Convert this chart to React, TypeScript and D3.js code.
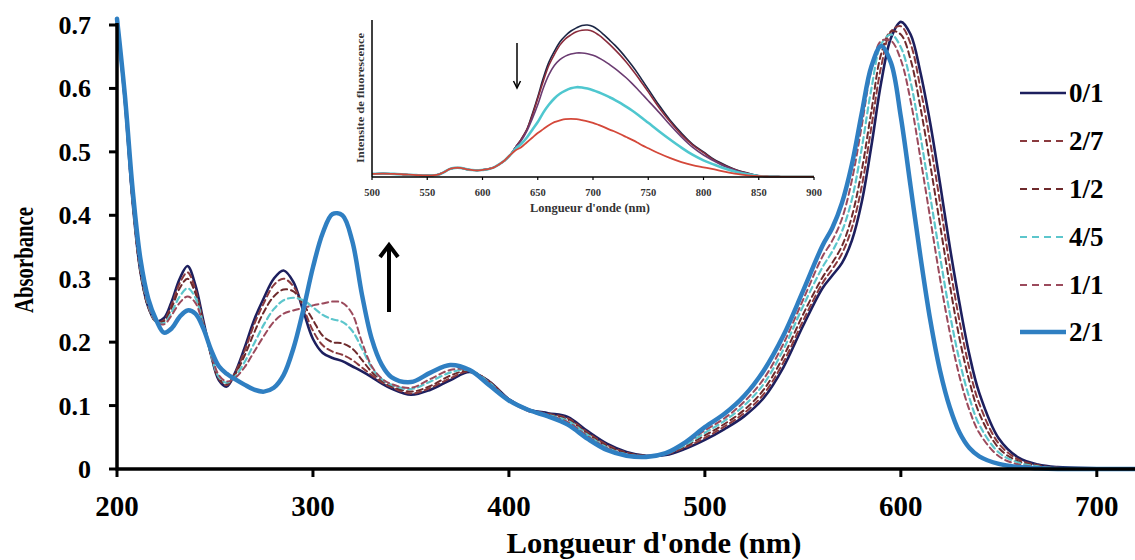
import React from "react";
import * as d3 from "d3";

// ---------- Main chart data ----------
const wavelengths = [200, 204, 208, 212, 216, 220, 224, 228, 232, 236, 240, 244, 248, 252, 256,
  260, 265, 270, 275, 280, 285, 290, 295, 300, 305, 310, 315, 320, 325, 330, 335, 340,
  350, 360, 370, 380, 390, 400, 410, 420, 430, 440, 450, 460, 470, 480, 490, 500, 510, 520, 530, 540, 550, 560,
  565, 570, 575, 580, 585, 590, 595, 600, 605, 610, 615, 620, 625, 630, 635, 640,
  650, 660, 670, 680, 700, 720];

const s01 = [0.71, 0.58, 0.42, 0.31, 0.255, 0.233, 0.238, 0.265, 0.30, 0.32, 0.29, 0.235, 0.18, 0.14, 0.13,
  0.15, 0.19, 0.235, 0.27, 0.30, 0.313, 0.295, 0.25, 0.205, 0.183, 0.175, 0.17, 0.162, 0.154, 0.145, 0.135, 0.127,
  0.117, 0.125, 0.14, 0.153, 0.138, 0.11, 0.094, 0.088, 0.082, 0.06, 0.04, 0.027, 0.021, 0.022, 0.032, 0.046, 0.063, 0.083, 0.112, 0.16, 0.225, 0.285,
  0.305, 0.325, 0.36, 0.42, 0.51, 0.61, 0.68, 0.705, 0.685, 0.625, 0.545, 0.45, 0.35, 0.26, 0.18, 0.12,
  0.048, 0.018, 0.007, 0.003, 0.001, 0];

const s27 = [0.71, 0.58, 0.42, 0.31, 0.255, 0.232, 0.235, 0.26, 0.293, 0.31, 0.283, 0.232, 0.18, 0.142, 0.132,
  0.15, 0.185, 0.228, 0.262, 0.29, 0.30, 0.288, 0.255, 0.218, 0.195, 0.185, 0.18, 0.172, 0.16, 0.148, 0.137, 0.129,
  0.119, 0.128, 0.143, 0.154, 0.138, 0.11, 0.094, 0.087, 0.08, 0.058, 0.038, 0.026, 0.021, 0.023, 0.034, 0.049, 0.067, 0.088, 0.118, 0.168, 0.233, 0.293,
  0.315, 0.34, 0.38, 0.445, 0.54, 0.635, 0.69, 0.698, 0.67, 0.60, 0.515, 0.42, 0.32, 0.232, 0.158, 0.103,
  0.04, 0.015, 0.006, 0.002, 0.001, 0];

const s12 = [0.71, 0.58, 0.42, 0.31, 0.255, 0.232, 0.233, 0.255, 0.285, 0.30, 0.277, 0.23, 0.18, 0.143, 0.134,
  0.148, 0.178, 0.215, 0.248, 0.272, 0.283, 0.28, 0.26, 0.235, 0.21, 0.20, 0.198, 0.19, 0.172, 0.153, 0.14, 0.131,
  0.122, 0.131, 0.147, 0.155, 0.137, 0.109, 0.093, 0.086, 0.078, 0.056, 0.036, 0.025, 0.021, 0.024, 0.036, 0.053, 0.071, 0.093, 0.125, 0.177, 0.243, 0.302,
  0.325, 0.352, 0.398, 0.47, 0.565, 0.655, 0.69, 0.685, 0.645, 0.57, 0.48, 0.385, 0.29, 0.205, 0.138, 0.088,
  0.033, 0.012, 0.005, 0.002, 0.001, 0];

const s45 = [0.71, 0.58, 0.425, 0.315, 0.258, 0.232, 0.23, 0.248, 0.272, 0.285, 0.27, 0.228, 0.18, 0.145, 0.136,
  0.145, 0.168, 0.198, 0.228, 0.252, 0.266, 0.27, 0.266, 0.255, 0.243, 0.236, 0.232, 0.218, 0.19, 0.16, 0.142, 0.133,
  0.126, 0.138, 0.152, 0.156, 0.136, 0.108, 0.092, 0.085, 0.076, 0.054, 0.034, 0.023, 0.02, 0.024, 0.038, 0.057, 0.076, 0.10, 0.134, 0.188, 0.256, 0.318,
  0.343, 0.375, 0.425, 0.505, 0.60, 0.67, 0.685, 0.665, 0.61, 0.525, 0.43, 0.335, 0.245, 0.17, 0.112, 0.07,
  0.026, 0.01, 0.004, 0.001, 0, 0];

const s11 = [0.71, 0.58, 0.428, 0.318, 0.26, 0.232, 0.228, 0.243, 0.262, 0.272, 0.262, 0.226, 0.182, 0.148, 0.138,
  0.143, 0.16, 0.185, 0.21, 0.232, 0.245, 0.25, 0.254, 0.258, 0.261, 0.264, 0.262, 0.245, 0.20, 0.162, 0.143, 0.134,
  0.128, 0.142, 0.156, 0.156, 0.135, 0.108, 0.091, 0.084, 0.074, 0.052, 0.033, 0.022, 0.019, 0.024, 0.04, 0.061, 0.08, 0.106, 0.142, 0.197, 0.266, 0.335,
  0.36, 0.395, 0.455, 0.54, 0.63, 0.675, 0.675, 0.645, 0.58, 0.49, 0.395, 0.30, 0.215, 0.145, 0.093, 0.057,
  0.02, 0.007, 0.003, 0.001, 0, 0];

const s21 = [0.71, 0.59, 0.44, 0.33, 0.268, 0.235, 0.215, 0.222, 0.24, 0.25, 0.245, 0.222, 0.188, 0.162, 0.15,
  0.142, 0.133, 0.125, 0.122, 0.128, 0.148, 0.19, 0.25, 0.318, 0.372, 0.402, 0.40, 0.36, 0.275, 0.205, 0.165, 0.145,
  0.137, 0.152, 0.164, 0.156, 0.132, 0.108, 0.093, 0.083, 0.07, 0.048, 0.03, 0.021, 0.019, 0.025, 0.042, 0.066, 0.087, 0.115, 0.155, 0.21, 0.28, 0.352,
  0.38, 0.42, 0.48, 0.56, 0.635, 0.667, 0.64, 0.555, 0.445, 0.335, 0.235, 0.155, 0.097, 0.057, 0.033, 0.02,
  0.008, 0.003, 0.001, 0, 0, 0];

const seriesNames = ["0/1", "2/7", "1/2", "4/5", "1/1", "2/1"];
const seriesValues = [s01, s27, s12, s45, s11, s21];
const seriesColors = ["#1d1f5e", "#8a3a3e", "#6e2a2c", "#5cc6cc", "#9b4a5c", "#2f7fc2"];
const seriesWidths = [2.6, 2, 2, 2.2, 2, 4.5];
const seriesDash = [null, "6,4", "6,4", "6,4", "6,4", null];

const xTicks = [200, 300, 400, 500, 600, 700];
const yTicks = [0, 0.1, 0.2, 0.3, 0.4, 0.5, 0.6, 0.7];

// ---------- Inset data (fluorescence) ----------
const insetWl = [500, 510, 520, 530, 540, 550, 560, 565, 570, 575, 580, 585, 590, 595, 600, 605, 610, 615, 620, 625,
  630, 635, 640, 645, 650, 655, 660, 665, 670, 675, 680, 685, 690, 695, 700, 705, 710, 715, 720, 725, 730, 735, 740, 745, 750,
  760, 770, 780, 790, 800, 810, 820, 830, 840, 850, 860, 870, 880, 890, 900];
const baseFl = [0.02, 0.022, 0.02, 0.016, 0.012, 0.01, 0.015, 0.03, 0.05, 0.058, 0.058, 0.05, 0.045, 0.042, 0.045, 0.05, 0.06, 0.08, 0.105, 0.14];
const flA = [...baseFl, 0.19, 0.24, 0.30, 0.40, 0.51, 0.63, 0.73, 0.80, 0.86, 0.90, 0.93, 0.95, 0.965, 0.968, 0.958, 0.935, 0.905, 0.872, 0.838, 0.80, 0.758, 0.713, 0.665, 0.612, 0.56,
  0.455, 0.36, 0.28, 0.21, 0.16, 0.11, 0.075, 0.045, 0.025, 0.008, 0.003, 0.002, 0.002, 0.002, 0.002];
const flB = [...baseFl, 0.19, 0.24, 0.30, 0.39, 0.50, 0.61, 0.71, 0.78, 0.84, 0.88, 0.905, 0.925, 0.935, 0.936, 0.927, 0.905, 0.877, 0.845, 0.81, 0.773, 0.732, 0.688, 0.642, 0.592, 0.542,
  0.44, 0.35, 0.27, 0.205, 0.155, 0.105, 0.07, 0.043, 0.023, 0.008, 0.003, 0.002, 0.002, 0.002, 0.002];
const flC = [...baseFl, 0.19, 0.23, 0.29, 0.37, 0.46, 0.565, 0.65, 0.71, 0.748, 0.77, 0.783, 0.79, 0.79, 0.785, 0.775, 0.76, 0.74, 0.716, 0.69, 0.662, 0.632, 0.598, 0.562, 0.524, 0.486,
  0.41, 0.33, 0.255, 0.19, 0.14, 0.10, 0.065, 0.04, 0.02, 0.007, 0.003, 0.002, 0.002, 0.002, 0.002];
const flD = [...baseFl, 0.18, 0.21, 0.25, 0.30, 0.35, 0.41, 0.46, 0.50, 0.53, 0.55, 0.565, 0.572, 0.57, 0.563, 0.553, 0.54, 0.525, 0.508, 0.49, 0.47, 0.448, 0.425, 0.40, 0.372, 0.345,
  0.29, 0.237, 0.187, 0.142, 0.106, 0.078, 0.052, 0.032, 0.017, 0.006, 0.003, 0.002, 0.002, 0.002, 0.002];
const flE = [...baseFl, 0.17, 0.19, 0.22, 0.25, 0.28, 0.305, 0.33, 0.35, 0.36, 0.368, 0.37, 0.368, 0.362, 0.355, 0.345, 0.332, 0.318, 0.302, 0.288, 0.272, 0.255, 0.238, 0.22, 0.20, 0.183,
  0.15, 0.12, 0.095, 0.076, 0.062, 0.048, 0.033, 0.02, 0.011, 0.005, 0.003, 0.002, 0.002, 0.002, 0.002];
const insetSeries = [flA, flB, flC, flD, flE];
const insetColors = ["#1b2645", "#8a2c3c", "#6b3c72", "#4fc7cf", "#d4483a"];
const insetWidths = [1.6, 1.6, 1.6, 2.6, 1.8];
const insetTicks = [500, 550, 600, 650, 700, 750, 800, 850, 900];

const FONT = "'Liberation Serif', 'Times New Roman', serif";

export default function App() {
  // main scales
  const x = d3.scaleLinear().domain([200, 720]).range([117, 1136]);
  const y = d3.scaleLinear().domain([0, 0.7]).range([469, 25]);
  const line = d3.line<number>()
    .x((_, i) => x(wavelengths[i]))
    .y((d) => y(d))
    .curve(d3.curveCatmullRom.alpha(0.5));

  // inset scales
  const xi = d3.scaleLinear().domain([500, 900]).range([372, 814]);
  const yi = d3.scaleLinear().domain([0, 1]).range([177, 20]);
  const iline = d3.line<number>()
    .x((_, i) => xi(insetWl[i]))
    .y((d) => yi(d))
    .curve(d3.curveCatmullRom.alpha(0.5));

  const legendY = [93, 141, 189, 237, 285, 332];
  const drawOrder = [0, 1, 2, 3, 4, 5];

  return (
    <svg width={1135} height={560} style={{ position: "absolute", left: 0, top: 0, background: "#fff" }}
      fontFamily={FONT} fontWeight="bold">
      {/* main curves */}
      {drawOrder.map((k) => (
        <path key={k} d={line(seriesValues[k]) || ""} fill="none" stroke={seriesColors[k]}
          strokeWidth={seriesWidths[k]} strokeDasharray={seriesDash[k] || undefined}
          strokeLinejoin="round" strokeLinecap="round" />
      ))}

      {/* axes */}
      <line x1={x(200)} x2={1135} y1={y(0)} y2={y(0)} stroke="#000" strokeWidth={3.5} />
      <line x1={x(200)} x2={x(200)} y1={y(0.7) - 2} y2={y(0) + 1.5} stroke="#000" strokeWidth={3.5} />
      {yTicks.map((t) => (
        <g key={t}>
          <line x1={x(200) - 8} x2={x(200)} y1={y(t)} y2={y(t)} stroke="#000" strokeWidth={3} />
          <text x={91} y={y(t) + 9} textAnchor="end" fontSize={26}>{t === 0 ? "0" : t.toFixed(1)}</text>
        </g>
      ))}
      {xTicks.map((t) => (
        <g key={t}>
          <line x1={x(t)} x2={x(t)} y1={y(0)} y2={y(0) + 8} stroke="#000" strokeWidth={3} />
          <text x={x(t)} y={516} textAnchor="middle" fontSize={29}>{t}</text>
        </g>
      ))}
      <text x={654} y={553} textAnchor="middle" fontSize={30} textLength={295} lengthAdjust="spacingAndGlyphs">Longueur d'onde (nm)</text>
      <text transform="translate(33,260) rotate(-90)" textAnchor="middle" fontSize={28} textLength={106} lengthAdjust="spacingAndGlyphs">Absorbance</text>

      {/* up arrow */}
      <line x1={389} x2={389} y1={312} y2={248} stroke="#000" strokeWidth={4} />
      <path d="M380,257 L389,245 L398,257" fill="none" stroke="#000" strokeWidth={4} strokeLinejoin="miter" />

      {/* legend */}
      {seriesNames.map((n, k) => (
        <g key={n}>
          <line x1={1020} x2={1066} y1={legendY[k]} y2={legendY[k]} stroke={seriesColors[k]}
            strokeWidth={k === 5 ? 4.5 : k === 0 ? 2.6 : 2.2} strokeDasharray={seriesDash[k] ? "7,5" : undefined} />
          <text x={1069} y={legendY[k] + 9} fontSize={27}>{n}</text>
        </g>
      ))}

      {/* inset */}
      {insetSeries.map((s, k) => (
        <path key={k} d={iline(s) || ""} fill="none" stroke={insetColors[k]} strokeWidth={insetWidths[k]} strokeLinejoin="round" />
      ))}
      <line x1={xi(500)} x2={xi(500)} y1={yi(1)} y2={yi(0)} stroke="#000" strokeWidth={1.5} />
      <line x1={xi(500)} x2={xi(900)} y1={yi(0)} y2={yi(0)} stroke="#000" strokeWidth={1.5} />
      {insetTicks.map((t) => (
        <g key={t}>
          <line x1={xi(t)} x2={xi(t)} y1={yi(0)} y2={yi(0) + 3} stroke="#000" strokeWidth={1.2} />
          <text x={xi(t)} y={196} textAnchor="middle" fontSize={10.5} fill="#333">{t}</text>
        </g>
      ))}
      <text x={590} y={212} textAnchor="middle" fontSize={12.5} textLength={120} lengthAdjust="spacingAndGlyphs" fill="#333">Longueur d'onde (nm)</text>
      <text transform="translate(364,98) rotate(-90)" textAnchor="middle" fontSize={11} textLength={130} lengthAdjust="spacingAndGlyphs" fill="#333">Intensite de fluorescence</text>
      <line x1={517} x2={517} y1={43} y2={87} stroke="#000" strokeWidth={1.5} />
      <path d="M513.5,81 L517,88 L520.5,81" fill="none" stroke="#000" strokeWidth={1.5} />
    </svg>
  );
}
